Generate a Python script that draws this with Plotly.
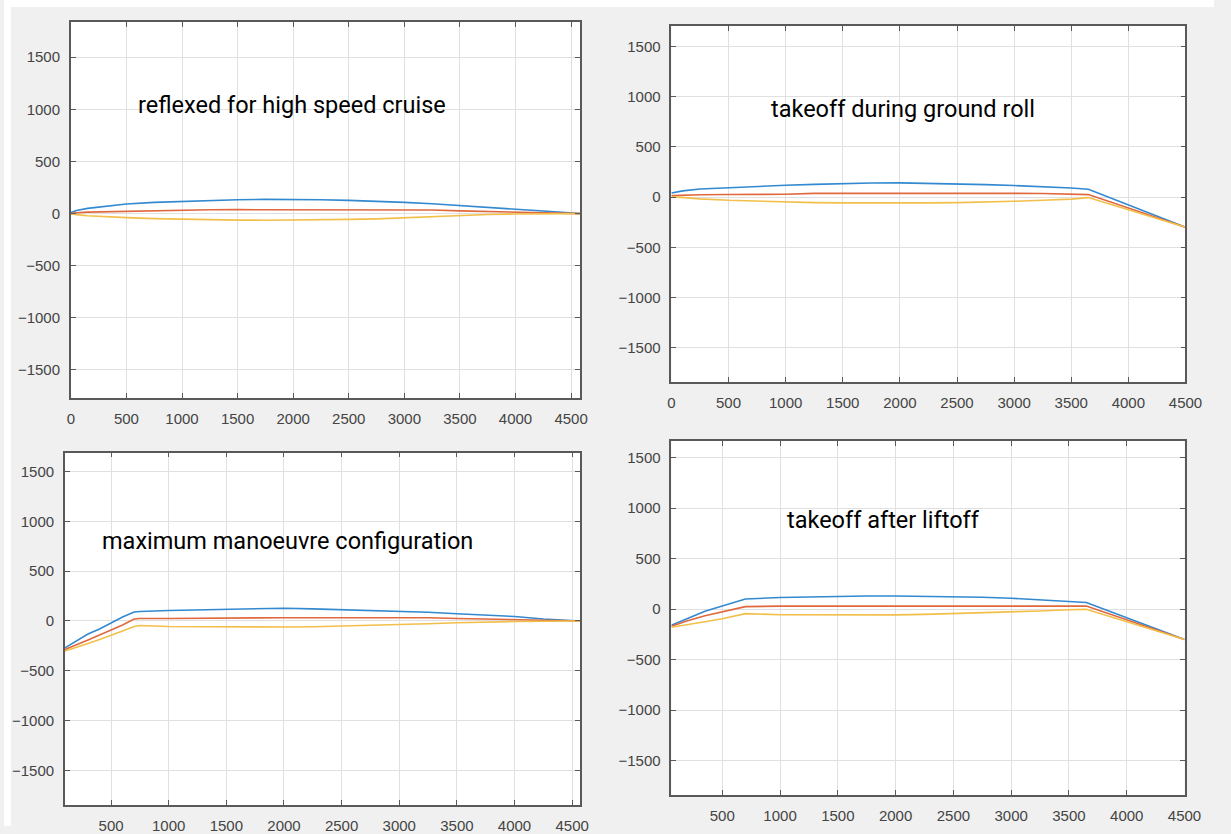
import plotly.graph_objects as go

W, H = 1231, 834

# ---------------- data ----------------
# Panel 1: reflexed for high speed cruise
x1 = [0, 50, 150, 300, 500, 750, 1000, 1250, 1500, 1750, 2000, 2250, 2500, 2750, 3000, 3250, 3500, 3750, 4000, 4250, 4450, 4580]
blue1 = [10, 30, 50, 70, 92, 108, 118, 127, 133, 137, 137, 133, 127, 119, 108, 94, 78, 62, 45, 25, 10, 0]
orange1 = [0, 8, 14, 18, 22, 26, 30, 37, 38, 38, 38, 38, 38, 37, 36, 34, 26, 20, 13, 7, 3, 0]
yellow1 = [0, -10, -20, -30, -38, -48, -55, -60, -62, -63, -62, -60, -55, -50, -40, -25, -14, -8, -4, -2, -1, 0]

# Panel 2: takeoff during ground roll
x2 = [0, 100, 250, 500, 750, 1000, 1250, 1500, 1750, 2000, 2250, 2500, 2750, 3000, 3250, 3500, 3650, 4500]
blue2 = [40, 62, 80, 95, 108, 118, 127, 135, 140, 142, 138, 132, 124, 115, 105, 90, 78, -300]
orange2 = [15, 20, 23, 26, 27, 28, 37, 38, 38, 38, 38, 38, 38, 37, 36, 30, 25, -300]
yellow2 = [5, -5, -18, -32, -42, -50, -55, -58, -60, -60, -58, -55, -50, -42, -32, -20, -5, -300]

# Panel 3: maximum manoeuvre configuration
x3 = [100, 200, 300, 400, 500, 600, 700, 750, 1000, 1250, 1500, 1750, 2000, 2250, 2500, 2750, 3000, 3250, 3500, 3750, 4000, 4250, 4568]
blue3 = [-270, -200, -130, -80, -20, 40, 90, 95, 105, 112, 120, 125, 128, 122, 115, 108, 100, 88, 72, 60, 45, 20, 0]
orange3 = [-285, -240, -190, -140, -90, -40, 20, 25, 25, 28, 32, 33, 33, 33, 33, 33, 33, 32, 25, 18, 10, 5, 0]
yellow3 = [-300, -265, -225, -185, -145, -100, -55, -45, -55, -58, -60, -60, -60, -58, -52, -45, -35, -28, -18, -10, -5, -2, 0]

# Panel 4: takeoff after liftoff
x4 = [60, 200, 350, 500, 700, 1000, 1250, 1500, 1750, 2000, 2250, 2500, 2750, 3000, 3250, 3500, 3650, 4500]
blue4 = [-160, -90, -20, 30, 100, 115, 122, 128, 130, 130, 128, 125, 118, 108, 95, 75, 65, -300]
orange4 = [-170, -115, -65, -25, 25, 30, 30, 32, 32, 32, 32, 32, 32, 32, 32, 32, 30, -300]
yellow4 = [-180, -150, -125, -95, -45, -55, -57, -58, -58, -57, -52, -45, -38, -28, -18, -6, -2, -300]

titles = ["reflexed for high speed cruise", "takeoff during ground roll",
          "maximum manoeuvre configuration", "takeoff after liftoff"]
x_ticks = [0, 500, 1000, 1500, 2000, 2500, 3000, 3500, 4000, 4500]
y_ticks = [-1500, -1000, -500, 0, 500, 1000, 1500]

# ---------------- layout geometry (pixels) ----------------
boxes = [(68, 586, 22, 402), (679, 1202, 26, 386), (62, 586, 457, 813), (679, 1201, 445, 803)]
xranges = [[0, 4580], [0, 4500], [100, 4568], [60, 4500]]
yranges = [[-1770, 1840], [-1845, 1707], [-1848, 1689], [-1843, 1667]]
text_pos = [(293, 106), (915, 110), (288, 546), (895, 525)]

colors = ["#3389cf", "#e0683e", "#f2bf4a"]

fig = go.Figure()
panels = [(x1, blue1, orange1, yellow1), (x2, blue2, orange2, yellow2),
          (x3, blue3, orange3, yellow3), (x4, blue4, orange4, yellow4)]

layout = {}
for i, (xs, b, o, y) in enumerate(panels):
    n = i + 1
    xa = "x" if n == 1 else f"x{n}"
    ya = "y" if n == 1 else f"y{n}"
    for series, c in zip((b, o, y), colors):
        fig.add_trace(go.Scatter(x=xs, y=series, mode="lines", xaxis=xa, yaxis=ya,
                                 line=dict(color=c, width=1.6), showlegend=False,
                                 hoverinfo="skip"))
    l, r, t, btm = boxes[i]
    common = dict(showgrid=True, gridcolor="#e0e0e0", gridwidth=1, zeroline=False,
                  showline=True, linecolor="#595959", linewidth=1.6, mirror="ticks",
                  ticks="inside", ticklen=5, tickcolor="#595959", tickwidth=1.3,
                  tickfont=dict(family="Liberation Sans, Arial, sans-serif", size=15, color="#444444"))
    layout["xaxis" if n == 1 else f"xaxis{n}"] = dict(
        domain=[l / W, r / W], range=xranges[i], tickvals=x_ticks,
        anchor=ya, ticklabelstandoff=6, **common)
    layout["yaxis" if n == 1 else f"yaxis{n}"] = dict(
        domain=[1 - btm / H, 1 - t / H], range=yranges[i], tickvals=y_ticks,
        anchor=xa, ticklabelstandoff=6, **common)

annotations = []
for (cx, cy), txt in zip(text_pos, titles):
    annotations.append(dict(text=txt, x=cx / W, y=1 - cy / H, xref="paper", yref="paper",
                            xanchor="center", yanchor="middle", showarrow=False,
                            font=dict(family="Roboto, sans-serif", size=23.5, color="#000000")))

shapes = [
    dict(type="rect", xref="paper", yref="paper", x0=0, x1=1, y0=1 - 7 / H, y1=1,
         fillcolor="#ffffff", line=dict(width=0), layer="below"),
    dict(type="rect", xref="paper", yref="paper", x0=0, x1=7 / W, y0=0, y1=1,
         fillcolor="#ffffff", line=dict(width=0), layer="below"),
]

fig.update_layout(width=W, height=H, autosize=False, margin=dict(l=0, r=0, t=0, b=0),
                  paper_bgcolor="#f0f0f0", plot_bgcolor="#ffffff",
                  annotations=annotations, shapes=shapes, showlegend=False, **layout)

fig.write_html("out.html")
